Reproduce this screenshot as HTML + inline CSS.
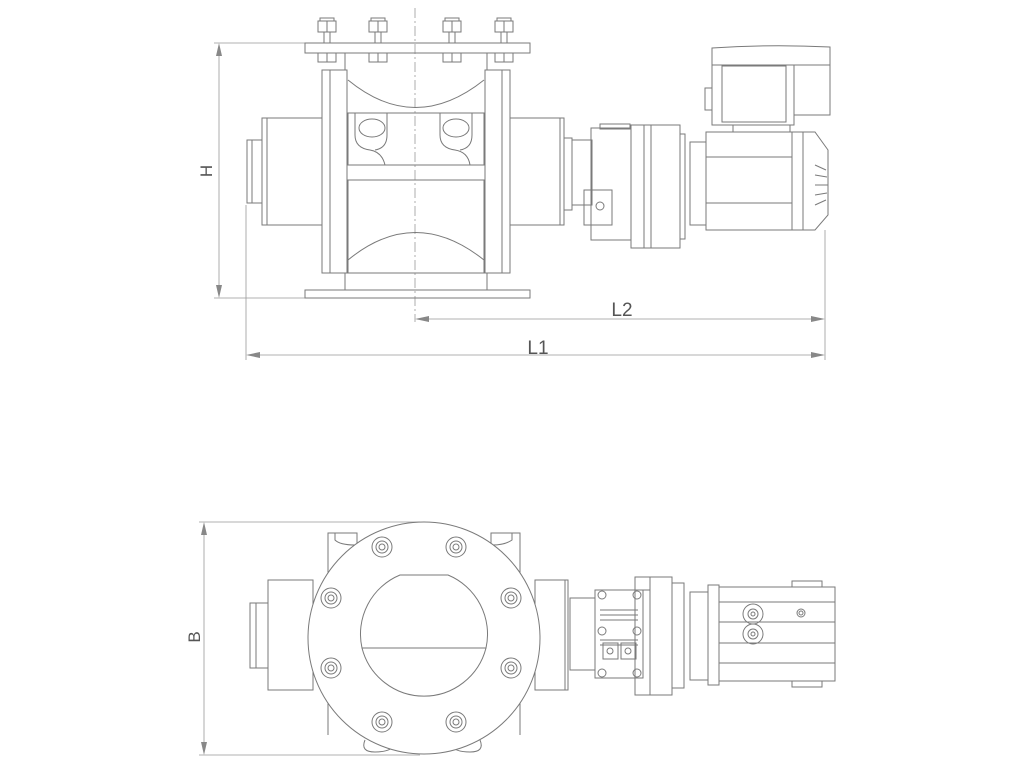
<!DOCTYPE html>
<html><head><meta charset="utf-8"><style>
html,body{margin:0;padding:0;background:#fff;width:1024px;height:768px;overflow:hidden}
svg{display:block}
text{font-family:"Liberation Sans",sans-serif;fill:#555}
</style></head><body>
<svg width="1024" height="768" viewBox="0 0 1024 768" fill="none" stroke="#7a7a7a" stroke-width="1">
<!-- ===== TOP VIEW ===== -->
<!-- dimensions -->
<g stroke="#999" stroke-width="0.8">
<line x1="214" y1="43" x2="305" y2="43"/><line x1="214" y1="298" x2="305" y2="298"/>
<line x1="219" y1="45" x2="219" y2="296"/>
<line x1="246" y1="205" x2="246" y2="360"/>
<line x1="825" y1="230" x2="825" y2="360"/>
<line x1="248" y1="355" x2="823" y2="355"/>
<line x1="417" y1="319" x2="823" y2="319"/>
<line x1="415" y1="8" x2="415" y2="322" stroke-dasharray="10,3,2,3"/>
</g>
<g fill="#888" stroke="none">
<polygon points="219,43 216,56 222,56"/><polygon points="219,298 216,285 222,285"/>
<polygon points="246,355 260,352 260,358"/><polygon points="825,355 811,352 811,358"/>
<polygon points="415,319 429,316 429,322"/><polygon points="825,319 811,316 811,322"/>
</g>
<text x="212" y="171" font-size="17" transform="rotate(-90 212 171)" text-anchor="middle" stroke="none">H</text>
<text x="622" y="316" font-size="19" text-anchor="middle" stroke="none">L2</text>
<text x="538" y="354" font-size="19" text-anchor="middle" stroke="none">L1</text>
<!-- top plate and bolts -->
<rect x="305" y="43" width="225" height="10"/>
<g>
<rect x="318" y="21" width="18" height="11"/><rect x="320" y="18" width="14" height="3"/><line x1="324" y1="32" x2="324" y2="43"/><line x1="330" y1="32" x2="330" y2="43"/><rect x="318" y="53" width="18" height="9"/><line x1="327" y1="21" x2="327" y2="32"/><line x1="327" y1="53" x2="327" y2="62"/>
<rect x="369" y="21" width="18" height="11"/><rect x="371" y="18" width="14" height="3"/><line x1="375" y1="32" x2="375" y2="43"/><line x1="381" y1="32" x2="381" y2="43"/><rect x="369" y="53" width="18" height="9"/><line x1="378" y1="21" x2="378" y2="32"/><line x1="378" y1="53" x2="378" y2="62"/>
<rect x="443" y="21" width="18" height="11"/><rect x="445" y="18" width="14" height="3"/><line x1="449" y1="32" x2="449" y2="43"/><line x1="455" y1="32" x2="455" y2="43"/><rect x="443" y="53" width="18" height="9"/><line x1="452" y1="21" x2="452" y2="32"/><line x1="452" y1="53" x2="452" y2="62"/>
<rect x="495" y="21" width="18" height="11"/><rect x="497" y="18" width="14" height="3"/><line x1="501" y1="32" x2="501" y2="43"/><line x1="507" y1="32" x2="507" y2="43"/><rect x="495" y="53" width="18" height="9"/><line x1="504" y1="21" x2="504" y2="32"/><line x1="504" y1="53" x2="504" y2="62"/>
</g>
<!-- body -->
<line x1="345" y1="53" x2="345" y2="70"/><line x1="487" y1="53" x2="487" y2="70"/>
<rect x="322" y="70" width="25" height="203"/><rect x="485" y="70" width="25" height="203"/>
<line x1="330" y1="70" x2="330" y2="273"/><line x1="502" y1="70" x2="502" y2="273"/>
<line x1="345" y1="273" x2="345" y2="290"/><line x1="487" y1="273" x2="487" y2="290"/>
<rect x="305" y="290" width="225" height="8"/>
<path d="M348 80 Q415 135 484 80"/>
<rect x="348" y="113" width="136" height="52"/>
<path d="M355 113 V135 Q355 148 370 150 Q382 152 385 165"/><path d="M387 113 V135 Q387 148 375 150"/>
<path d="M440 113 V135 Q440 148 455 150 Q468 152 470 165"/><path d="M472 113 V135 Q472 148 460 150"/>
<ellipse cx="372" cy="128" rx="13" ry="9"/><ellipse cx="456" cy="128" rx="13" ry="9"/>
<rect x="348" y="180" width="136" height="93"/>
<path d="M348 260 Q415 205 484 260"/>
<!-- left housing -->
<rect x="247" y="140" width="15" height="63"/><line x1="252" y1="140" x2="252" y2="203"/>
<rect x="262" y="118" width="60" height="107"/><line x1="267" y1="118" x2="267" y2="225"/>
<!-- right housing -->
<rect x="510" y="118" width="54" height="107"/><line x1="560" y1="118" x2="560" y2="225"/>
<rect x="564" y="138" width="8" height="72"/>
<rect x="572" y="140" width="20" height="65"/>
<!-- gearbox -->
<rect x="591" y="128" width="40" height="112"/>
<rect x="600" y="124" width="30" height="5"/>
<rect x="584" y="190" width="28" height="35"/><circle cx="600" cy="206" r="4"/>
<rect x="631" y="125" width="20" height="123"/><rect x="651" y="125" width="29" height="123"/>
<line x1="644" y1="125" x2="644" y2="248"/>
<rect x="680" y="134" width="5" height="105"/>
<!-- motor -->
<rect x="690" y="142" width="16" height="83"/>
<rect x="706" y="132" width="86" height="98"/>
<line x1="706" y1="157" x2="792" y2="157"/><line x1="706" y1="203" x2="792" y2="203"/>
<path d="M792 132 H815 L828 150 V215 L815 230 H792"/>
<line x1="803" y1="132" x2="803" y2="230"/>
<path d="M815 165 L826 170 M815 175 L827 177 M815 185 L828 185 M815 195 L827 193 M815 205 L826 200"/>
<!-- terminal box -->
<rect x="733" y="125" width="57" height="7"/>
<path d="M712 48 Q770 44 830 47 V65 H712 Z"/>
<rect x="712" y="65" width="82" height="60"/>
<rect x="722" y="66" width="64" height="56"/>
<rect x="794" y="65" width="36" height="50"/>
<rect x="705" y="88" width="7" height="22"/>
<!-- ===== BOTTOM VIEW ===== -->
<g stroke="#999" stroke-width="0.8">
<line x1="199" y1="522" x2="420" y2="522"/><line x1="199" y1="755" x2="420" y2="755"/>
<line x1="204" y1="524" x2="204" y2="753"/>
</g>
<g fill="#888" stroke="none">
<polygon points="204,522 201,535 207,535"/><polygon points="204,755 201,742 207,742"/>
</g>
<text x="200" y="637" font-size="17" transform="rotate(-90 200 637)" text-anchor="middle" stroke="none">B</text>
<!-- behind -->
<path d="M328 735 V533 H357 V545"/><path d="M520 735 V533 H491 V545"/>
<path d="M335 533 V540 Q340 545 355 545"/><path d="M512 533 V540 Q505 545 492 545"/>
<path d="M365 740 Q360 752 375 752 Q390 752 395 745"/><path d="M480 740 Q485 752 470 752 Q455 752 450 745"/>
<rect x="250" y="603" width="18" height="65"/><line x1="256" y1="603" x2="256" y2="668"/>
<rect x="268" y="580" width="45" height="110"/>
<rect x="535" y="580" width="33" height="110"/><line x1="565" y1="580" x2="565" y2="690"/>
<!-- flange -->
<circle cx="424" cy="638" r="116" fill="#fff"/>
<path d="M362 648 A64 64 0 0 1 400 575 H448 A64 64 0 0 1 486 648 Z"/>
<path d="M362 648 A64 64 0 0 0 486 648"/>
<line x1="400" y1="575" x2="448" y2="575"/>
<g>
<circle cx="382" cy="547" r="10"/><circle cx="382" cy="547" r="6"/><circle cx="382" cy="547" r="3"/>
<circle cx="456" cy="547" r="10"/><circle cx="456" cy="547" r="6"/><circle cx="456" cy="547" r="3"/>
<circle cx="331" cy="598" r="10"/><circle cx="331" cy="598" r="6"/><circle cx="331" cy="598" r="3"/>
<circle cx="511" cy="598" r="10"/><circle cx="511" cy="598" r="6"/><circle cx="511" cy="598" r="3"/>
<circle cx="331" cy="668" r="10"/><circle cx="331" cy="668" r="6"/><circle cx="331" cy="668" r="3"/>
<circle cx="511" cy="668" r="10"/><circle cx="511" cy="668" r="6"/><circle cx="511" cy="668" r="3"/>
<circle cx="382" cy="722" r="10"/><circle cx="382" cy="722" r="6"/><circle cx="382" cy="722" r="3"/>
<circle cx="456" cy="722" r="10"/><circle cx="456" cy="722" r="6"/><circle cx="456" cy="722" r="3"/>
</g>
<!-- coupling -->
<rect x="570" y="598" width="25" height="72"/>
<!-- gearbox -->
<rect x="595" y="590" width="48" height="88"/>
<path d="M600 610 H638 M600 615 H638 M600 620 H638 M600 640 H638 M600 645 H638"/>
<circle cx="602" cy="595" r="4"/><circle cx="637" cy="595" r="4"/><circle cx="602" cy="631" r="4"/><circle cx="637" cy="631" r="4"/><circle cx="602" cy="673" r="4"/><circle cx="637" cy="673" r="4"/>
<rect x="603" y="643" width="15" height="16"/><rect x="621" y="643" width="15" height="16"/>
<circle cx="610" cy="651" r="3"/><circle cx="628" cy="651" r="3"/>
<rect x="635" y="577" width="15" height="118"/><rect x="650" y="577" width="22" height="118"/><rect x="672" y="583" width="12" height="105"/>
<line x1="643" y1="590" x2="650" y2="590"/>
<!-- motor -->
<rect x="690" y="592" width="18" height="88"/>
<rect x="708" y="585" width="11" height="100"/>
<rect x="719" y="587" width="116" height="94"/>
<line x1="719" y1="602" x2="835" y2="602"/><line x1="719" y1="622" x2="835" y2="622"/><line x1="719" y1="643" x2="835" y2="643"/><line x1="719" y1="663" x2="835" y2="663"/>
<rect x="792" y="581" width="30" height="6"/><rect x="792" y="681" width="30" height="6"/>
<circle cx="753" cy="614" r="10"/><circle cx="753" cy="614" r="5"/><circle cx="753" cy="614" r="2"/>
<circle cx="753" cy="634" r="10"/><circle cx="753" cy="634" r="5"/><circle cx="753" cy="634" r="2"/>
<circle cx="801" cy="613" r="4"/><circle cx="801" cy="613" r="2"/>
</svg>
</body></html>
